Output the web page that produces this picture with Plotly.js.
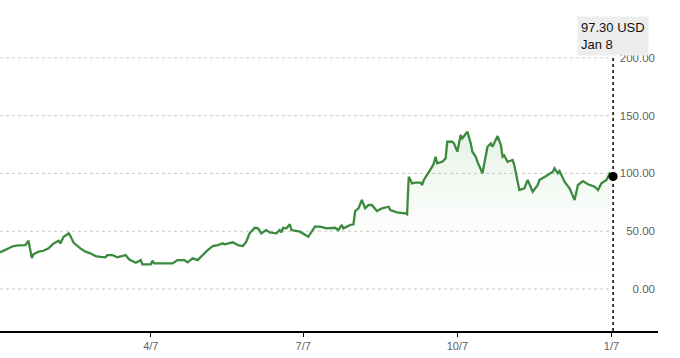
<!DOCTYPE html>
<html>
<head>
<meta charset="utf-8">
<script src="https://cdn.plot.ly/plotly-3.0.1.min.js"></script>
<style>html,body{margin:0;padding:0;background:#fff;}#chart{width:680px;height:358px;}</style>
</head>
<body>
<div id="chart"></div>
<script>
const dates = [
"2020-01-08","2020-01-12","2020-01-16","2020-01-19","2020-01-23","2020-01-24","2020-01-25","2020-01-27","2020-01-28","2020-01-31",
"2020-02-03","2020-02-06","2020-02-09","2020-02-12","2020-02-13","2020-02-15","2020-02-18","2020-02-19","2020-02-21","2020-02-25",
"2020-02-28","2020-03-02","2020-03-05","2020-03-08","2020-03-11","2020-03-12","2020-03-15","2020-03-18","2020-03-23","2020-03-25",
"2020-03-26","2020-03-29","2020-04-01","2020-04-02","2020-04-07","2020-04-08","2020-04-09","2020-04-14","2020-04-20","2020-04-23",
"2020-04-27","2020-04-29","2020-05-02","2020-05-05","2020-05-08","2020-05-11","2020-05-14","2020-05-17","2020-05-20","2020-05-21",
"2020-05-26","2020-05-29","2020-06-01","2020-06-03","2020-06-05","2020-06-08","2020-06-10","2020-06-12","2020-06-15","2020-06-17",
"2020-06-21","2020-06-23","2020-06-24","2020-06-25","2020-06-27","2020-06-29","2020-06-30","2020-07-05","2020-07-10","2020-07-14",
"2020-07-17","2020-07-21","2020-07-26","2020-07-28","2020-07-30","2020-07-31","2020-08-04","2020-08-06","2020-08-07","2020-08-09",
"2020-08-11","2020-08-13","2020-08-15","2020-08-17","2020-08-20","2020-08-23","2020-08-27","2020-08-28","2020-09-01","2020-09-06",
"2020-09-07","2020-09-08","2020-09-10","2020-09-12","2020-09-15","2020-09-16","2020-09-17","2020-09-19","2020-09-22","2020-09-23",
"2020-09-24","2020-09-25","2020-09-28","2020-09-30","2020-10-01","2020-10-04","2020-10-05","2020-10-07","2020-10-09","2020-10-10",
"2020-10-13","2020-10-15","2020-10-16","2020-10-18","2020-10-19","2020-10-22","2020-10-24","2020-10-25","2020-10-27","2020-10-28",
"2020-10-31","2020-11-02","2020-11-03","2020-11-04","2020-11-06","2020-11-09","2020-11-10","2020-11-13","2020-11-16","2020-11-18",
"2020-11-21","2020-11-24","2020-11-25","2020-11-27","2020-11-30","2020-12-03","2020-12-04","2020-12-06","2020-12-07","2020-12-10",
"2020-12-13","2020-12-16","2020-12-18","2020-12-21","2020-12-24","2020-12-28","2020-12-30","2021-01-01","2021-01-04","2021-01-06",
"2021-01-08"
];
const prices = [
31.7,34.3,37.2,37.8,38.0,39.5,41.8,26.8,30.0,32.3,
33.1,35.2,39.5,41.8,39.5,45.2,48.2,45.8,40.0,35.2,
32.3,30.9,28.5,27.9,27.4,29.4,29.4,27.4,29.4,25.7,
25.0,22.8,25.0,21.4,21.4,24.5,22.2,22.2,22.2,25.0,
25.0,23.1,26.5,25.0,29.4,33.7,37.2,38.0,39.5,38.7,
40.4,38.0,37.2,40.9,48.2,53.0,52.5,48.2,51.0,49.0,
48.2,51.0,49.0,53.0,52.5,56.0,51.0,49.6,45.2,53.9,
53.9,52.5,53.0,51.0,55.4,52.5,55.4,56.0,67.5,69.8,
77.0,69.8,72.7,72.7,67.5,69.8,71.2,68.3,66.3,65.5,
64.6,97.1,91.4,92.0,92.0,90.0,94.3,98.6,105.8,108.7,
114.4,108.7,110.1,113.0,127.4,127.4,126.0,118.8,133.2,130.4,
136.0,126.0,118.8,114.4,110.1,100.1,117.4,123.1,126.0,123.1,
132.3,124.6,114.4,115.5,110.1,111.6,107.3,85.6,87.1,94.3,
84.2,90.0,94.3,95.8,98.6,101.5,104.4,100.1,102.1,92.8,
87.1,77.0,90.0,93.4,90.6,88.5,85.6,91.4,94.3,100.1,
97.3
];
const yTicks = [0, 50, 100, 150, 200];
const yTickText = ["0.00", "50.00", "100.00", "150.00", "200.00"];
const xTicks = ["2020-04-07", "2020-07-07", "2020-10-07", "2021-01-07"];
const xTickText = ["4/7", "7/7", "10/7", "1/7"];
const lastLabel = "97.30 USD<br>Jan 8";

const firstDate = dates[0];
const lastDate = dates[dates.length - 1];
const lastPrice = prices[prices.length - 1];

const lineColor = "#3b8a3e";

const traces = [
  {
    x: dates, y: prices, type: "scatter", mode: "lines",
    line: {color: lineColor, width: 2.3},
    fill: "tozeroy",
    fillgradient: {type: "vertical", start: 0, stop: 140,
      colorscale: [[0, "rgba(255,255,255,0)"], [1, "rgba(90,170,90,0.17)"]]},
    hoverinfo: "skip"
  },
  {
    x: [lastDate], y: [lastPrice], type: "scatter", mode: "markers",
    marker: {color: "#000", size: 9},
    hoverinfo: "skip"
  }
];

const shapes = yTicks.map(v => ({
  type: "line", xref: "x", yref: "y", x0: firstDate, x1: lastDate, y0: v, y1: v,
  line: {color: "#c8c8c8", width: 1, dash: "dot"}, layer: "below"
}));
shapes.push({
  type: "line", xref: "x", yref: "paper", x0: lastDate, x1: lastDate, y0: 0, y1: 0.855,
  line: {color: "#000", width: 1.5, dash: "dot"}
});

const layout = {
  width: 680, height: 358,
  margin: {l: 0, r: 22, t: 0, b: 27},
  paper_bgcolor: "#fff", plot_bgcolor: "#fff",
  showlegend: false,
  font: {family: "Liberation Sans, Arial, sans-serif", color: "#666", size: 11},
  xaxis: {
    type: "date",
    range: ["2020-01-08", "2021-02-03 19:00"],
    tickvals: xTicks, ticktext: xTickText,
    showgrid: false, zeroline: false,
    showline: true, linecolor: "#000", linewidth: 1.5,
    ticks: "outside", ticklen: 4, tickcolor: "#000", tickwidth: 1,
    tickfont: {size: 11, color: "#5f5f5f"}
  },
  yaxis: {
    range: [-36.3, 250],
    side: "right",
    ticklabelposition: "inside",
    tickvals: yTicks, ticktext: yTickText,
    showgrid: false, zeroline: false, showline: false,
    ticks: "", tickfont: {size: 11.5, color: "#5f5f5f"}
  },
  shapes: shapes,
  annotations: [{
    xref: "x", yref: "paper", x: lastDate, y: 0.952,
    xanchor: "center", yanchor: "top",
    text: lastLabel, showarrow: false, align: "left",
    font: {size: 13, color: "#111", family: "Liberation Sans, Arial, sans-serif"},
    bgcolor: "#ededed", borderpad: 3
  }]
};

Plotly.newPlot("chart", traces, layout, {displayModeBar: false, staticPlot: true});
</script>
</body>
</html>
